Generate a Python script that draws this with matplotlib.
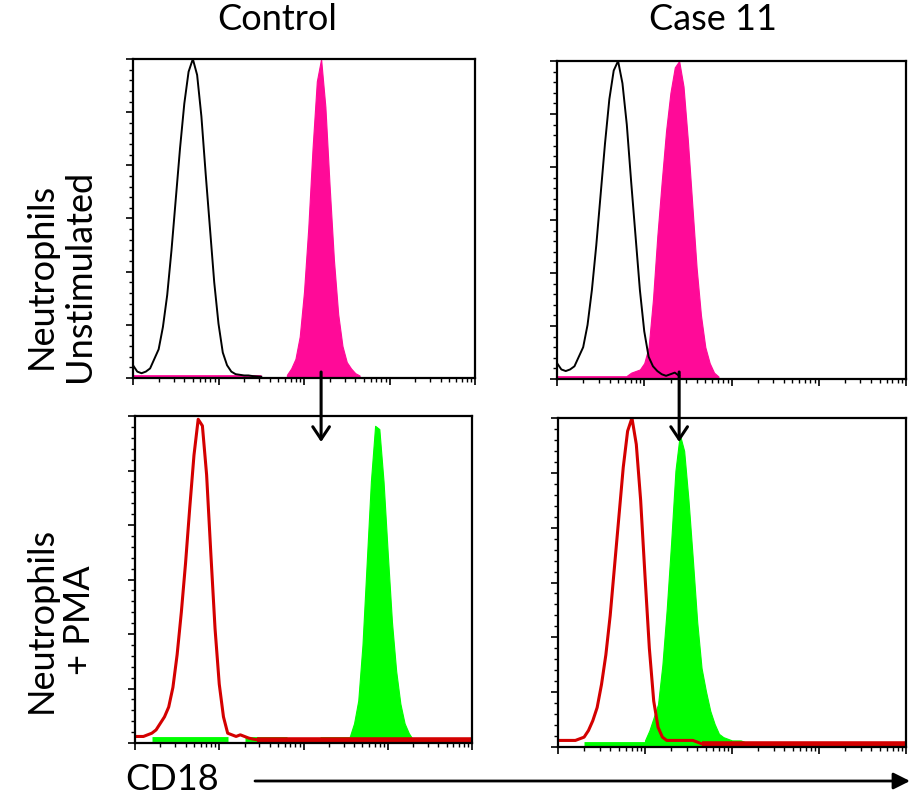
import numpy as np
import matplotlib
matplotlib.use('Agg')
import matplotlib.pyplot as plt
from matplotlib.patches import FancyArrowPatch
from matplotlib.ticker import LogLocator, MultipleLocator, NullFormatter

plt.rcParams['font.family'] = ['Lato', 'DejaVu Sans']

# histograms: first channel (log10 decade), 0.05-decade bins, normalised counts
BIN = 0.05

ctrl_iso_start = 0.0
ctrl_iso = [0.04, 0.02, 0.015, 0.02, 0.03, 0.06, 0.09, 0.16, 0.26, 0.40, 0.56,
            0.72, 0.86, 0.96, 1.00, 0.95, 0.82, 0.64, 0.47, 0.30, 0.17, 0.08,
            0.04, 0.02, 0.012, 0.01, 0.008, 0.008, 0.006, 0.005, 0.004]
ctrl_cd18_start = 1.80
ctrl_cd18 = [0.01, 0.03, 0.06, 0.13, 0.27, 0.47, 0.72, 0.93, 1.00, 0.85, 0.60,
             0.37, 0.20, 0.10, 0.05, 0.03, 0.015, 0.008]

case_iso_start = 0.0
case_iso = [0.05, 0.03, 0.025, 0.03, 0.04, 0.07, 0.10, 0.17, 0.28, 0.42, 0.58,
            0.74, 0.88, 0.97, 1.00, 0.93, 0.80, 0.62, 0.45, 0.28, 0.15, 0.07,
            0.04, 0.025, 0.015, 0.01, 0.015, 0.02, 0.01]
case_cd18_start = 0.80
case_cd18 = [0.01, 0.02, 0.025, 0.03, 0.05, 0.10, 0.25, 0.45, 0.62, 0.78, 0.90,
             0.98, 1.00, 0.92, 0.75, 0.55, 0.35, 0.20, 0.10, 0.05, 0.02, 0.008]

ctrl_pma_iso_start = 0.0
ctrl_pma_iso = [0.02, 0.02, 0.02, 0.025, 0.03, 0.04, 0.06, 0.08, 0.11, 0.17,
                0.27, 0.40, 0.55, 0.72, 0.88, 0.99, 0.97, 0.82, 0.58, 0.35,
                0.18, 0.08, 0.03, 0.025, 0.02, 0.025, 0.02, 0.015, 0.012, 0.01]
ctrl_pma_cd18_start = 2.55
ctrl_pma_cd18 = [0.02, 0.06, 0.13, 0.30, 0.55, 0.80, 0.97, 0.96, 0.80, 0.58,
                 0.37, 0.22, 0.12, 0.06, 0.03, 0.01]

case_pma_iso_start = 0.0
case_pma_iso = [0.02, 0.02, 0.02, 0.02, 0.02, 0.025, 0.03, 0.05, 0.08, 0.12,
                0.19, 0.28, 0.40, 0.55, 0.70, 0.85, 0.96, 1.00, 0.92, 0.75,
                0.52, 0.30, 0.14, 0.06, 0.03, 0.02, 0.02, 0.02, 0.02, 0.02,
                0.02, 0.02, 0.015, 0.01]
case_pma_cd18_start = 1.00
case_pma_cd18 = [0.02, 0.05, 0.09, 0.13, 0.25, 0.42, 0.62, 0.84, 0.95, 0.90,
                 0.75, 0.57, 0.38, 0.24, 0.17, 0.11, 0.07, 0.04, 0.03, 0.025,
                 0.02, 0.02, 0.02, 0.015, 0.01]

# low-level background events: (from decade, to decade, level)
ctrl_cd18_floor = [(0.0, 1.5, 0.006)]
case_cd18_floor = [(0.0, 0.8, 0.006)]
ctrl_pma_iso_floor = [(1.45, 4.0, 0.01)]
case_pma_iso_floor = [(1.65, 4.0, 0.01)]
ctrl_pma_cd18_floor = [(0.2, 1.1, 0.012), (1.3, 1.8, 0.012), (1.9, 2.1, 0.01),
                       (2.2, 2.55, 0.012)]
case_pma_cd18_floor = [(0.3, 1.0, 0.01), (2.2, 2.5, 0.01)]

col_titles = ['Control', 'Case 11']
row_titles = ['Neutrophils\nUnstimulated', 'Neutrophils\n+ PMA']
x_title = 'CD18'

MAGENTA = '#ff0a98'
GREEN = '#00ff00'
RED = '#d40000'

W, H = 910, 800
fig = plt.figure(figsize=(W / 100, H / 100), dpi=100)


def rect(left, right, top, bottom):
    return [left / W, 1 - bottom / H, (right - left) / W, (bottom - top) / H]


def centers(start, counts):
    return 10 ** (start + BIN * np.arange(len(counts)))


def make_ax(r):
    ax = fig.add_axes(r)
    ax.set_xscale('log')
    ax.set_xlim(1, 1e4)
    ax.set_ylim(0, 1.0)
    ax.xaxis.set_major_locator(LogLocator(base=10, numticks=10))
    ax.xaxis.set_minor_locator(LogLocator(base=10, subs=np.arange(2, 10), numticks=10))
    ax.xaxis.set_major_formatter(NullFormatter())
    ax.xaxis.set_minor_formatter(NullFormatter())
    ax.yaxis.set_major_locator(MultipleLocator(1 / 6))
    ax.yaxis.set_minor_locator(MultipleLocator(1 / 30))
    ax.yaxis.set_major_formatter(NullFormatter())
    ax.tick_params(which='major', direction='out', length=5, width=1.2)
    ax.tick_params(which='minor', direction='out', length=3, width=1.0)
    for s in ax.spines.values():
        s.set_linewidth(1.6)
    return ax


def floor(ax, segs, color, lw):
    for a, b, lev in segs:
        ax.plot([10 ** a, 10 ** b], [lev, lev], color=color, lw=lw, solid_capstyle='butt')


def filled(ax, start, counts, color):
    x = centers(start, counts)
    ax.fill_between(x, counts, color=color, lw=0.8, edgecolor=color)


def outline(ax, start, counts, color, lw):
    x = centers(start, counts)
    ax.plot(x, counts, color=color, lw=lw, drawstyle='default')


ax_tl = make_ax(rect(133, 475, 59, 378))
floor(ax_tl, ctrl_cd18_floor, MAGENTA, 2)
filled(ax_tl, ctrl_cd18_start, ctrl_cd18, MAGENTA)
outline(ax_tl, ctrl_iso_start, ctrl_iso, 'black', 1.4)

ax_tr = make_ax(rect(557, 906, 61, 379))
floor(ax_tr, case_cd18_floor, MAGENTA, 2)
filled(ax_tr, case_cd18_start, case_cd18, MAGENTA)
outline(ax_tr, case_iso_start, case_iso, 'black', 1.4)

ax_bl = make_ax(rect(135, 472, 416, 743))
floor(ax_bl, ctrl_pma_cd18_floor, GREEN, 3.5)
filled(ax_bl, ctrl_pma_cd18_start, ctrl_pma_cd18, GREEN)
floor(ax_bl, ctrl_pma_iso_floor, RED, 4)
outline(ax_bl, ctrl_pma_iso_start, ctrl_pma_iso, RED, 2.2)

ax_br = make_ax(rect(558, 906, 418, 747))
floor(ax_br, case_pma_cd18_floor, GREEN, 3.5)
filled(ax_br, case_pma_cd18_start, case_pma_cd18, GREEN)
floor(ax_br, case_pma_iso_floor, RED, 4)
outline(ax_br, case_pma_iso_start, case_pma_iso, RED, 2.2)

# arrows from the unstimulated CD18 peak down into the PMA panels
for ax, start, counts in [(ax_tl, ctrl_cd18_start, ctrl_cd18),
                          (ax_tr, case_cd18_start, case_cd18)]:
    pk = start + BIN * int(np.argmax(counts))
    b = ax.get_position()
    xf = b.x0 + b.width * pk / 4.0
    fig.add_artist(FancyArrowPatch(
        (xf, 1 - 372 / H), (xf, 1 - 442 / H), transform=fig.transFigure,
        arrowstyle='->,head_length=0.45,head_width=0.3', mutation_scale=20,
        color='black', lw=2.2, shrinkA=0, shrinkB=0, zorder=10))

fig.text(277 / W, 1 - 20 / H, col_titles[0], ha='center', va='center', fontsize=26)
fig.text(713 / W, 1 - 20 / H, col_titles[1], ha='center', va='center', fontsize=26)
fig.text(60 / W, 1 - 276 / H, row_titles[0], ha='center', va='center', fontsize=26,
         rotation=90, multialignment='center')
fig.text(60 / W, 1 - 620 / H, row_titles[1], ha='center', va='center', fontsize=26,
         rotation=90, multialignment='center')
fig.text(125 / W, 1 - 780 / H, x_title, ha='left', va='center', fontsize=26)
fig.add_artist(FancyArrowPatch(
    (255 / W, 1 - 781 / H), (910 / W, 1 - 781 / H), transform=fig.transFigure,
    arrowstyle='-|>,head_length=0.5,head_width=0.25', color='black', lw=2,
    shrinkA=0, shrinkB=0, mutation_scale=20))

fig.savefig('out.png', dpi=100)
